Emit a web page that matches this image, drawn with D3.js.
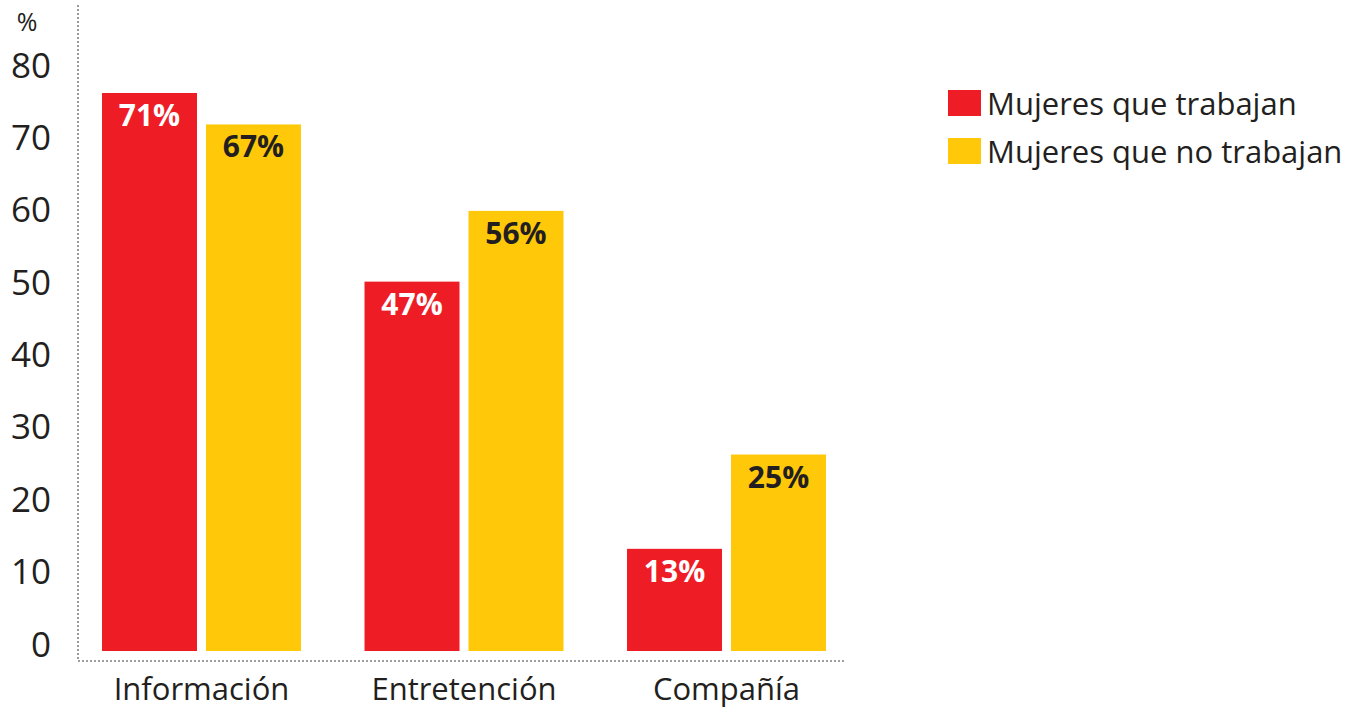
<!DOCTYPE html>
<html><head><meta charset="utf-8">
<script src="https://cdn.jsdelivr.net/npm/d3@7"></script>
<style>body{margin:0;background:#fff}svg{display:block}text{font-family:"Open Sans",sans-serif;fill:#231f20}</style>
</head><body><svg id="c" width="1353" height="708"></svg>
<script>
const categories = ["Información", "Entretención", "Compañía"];
const seriesNames = ["Mujeres que trabajan", "Mujeres que no trabajan"];
const trabajan = [71, 47, 13];
const noTrabajan = [67, 56, 25];
const tickValues = [0, 10, 20, 30, 40, 50, 60, 70, 80];
const colors = ["#ee1d25", "#ffc90a"];
const labelColors = ["#ffffff", "#231f20"];

const svg = d3.select("#c");
const series = [trabajan, noTrabajan];

const x0 = d3.scaleBand().domain(categories).range([102, 826]).paddingInner(0.242).paddingOuter(0);
const x1 = d3.scaleBand().domain(d3.range(series.length)).range([0, x0.bandwidth()]).paddingInner(0.0865).paddingOuter(0);
const y = d3.scaleLinear().domain([0, 71]).range([651, 93]);
const yTicks = d3.scaleLinear().domain([0, 80]).range([643.5, 64.5]);

// axis lines (dotted)
svg.append("line").attr("x1", 78).attr("x2", 78).attr("y1", 5).attr("y2", 661)
  .attr("stroke", "#808080").attr("stroke-width", 1.6).attr("stroke-dasharray", "2 2");
svg.append("line").attr("x1", 78).attr("x2", 846).attr("y1", 661).attr("y2", 661)
  .attr("stroke", "#808080").attr("stroke-width", 1.6).attr("stroke-dasharray", "2 2");

// y tick labels
const yAxis = d3.axisLeft(yTicks).tickValues(tickValues).tickSize(0).tickPadding(0);
const ga = svg.append("g").attr("transform", "translate(51,0)").call(yAxis);
ga.select(".domain").remove();
ga.selectAll("text").attr("font-family", "'Open Sans',sans-serif").attr("font-size", 35)
  .attr("fill", "#231f20").attr("dy", "0.36em");

svg.append("text").attr("x", 27).attr("y", 31).attr("text-anchor", "middle")
  .attr("font-size", 25).text("%");

// bars
categories.forEach((cat, i) => {
  series.forEach((s, j) => {
    const v = s[i];
    const bx = x0(cat) + x1(j);
    svg.append("rect").attr("x", bx).attr("y", y(v)).attr("width", x1.bandwidth())
      .attr("height", y(0) - y(v)).attr("fill", colors[j]);
    svg.append("text").attr("x", bx + x1.bandwidth() / 2).attr("y", y(v) + 33)
      .attr("text-anchor", "middle").attr("font-size", 30).attr("font-weight", 700)
      .style("fill", labelColors[j]).text(v + "%");
  });
  svg.append("text").attr("x", x0(cat) + x0.bandwidth() / 2).attr("y", 700)
    .attr("text-anchor", "middle").attr("font-size", 31).text(cat);
});

// legend
seriesNames.forEach((n, j) => {
  const ly = 90 + j * 48;
  svg.append("rect").attr("x", 948).attr("y", ly).attr("width", 33).attr("height", 26).attr("fill", colors[j]);
  svg.append("text").attr("x", 987).attr("y", ly + 25).attr("font-size", 31).text(n);
});
</script></body></html>
